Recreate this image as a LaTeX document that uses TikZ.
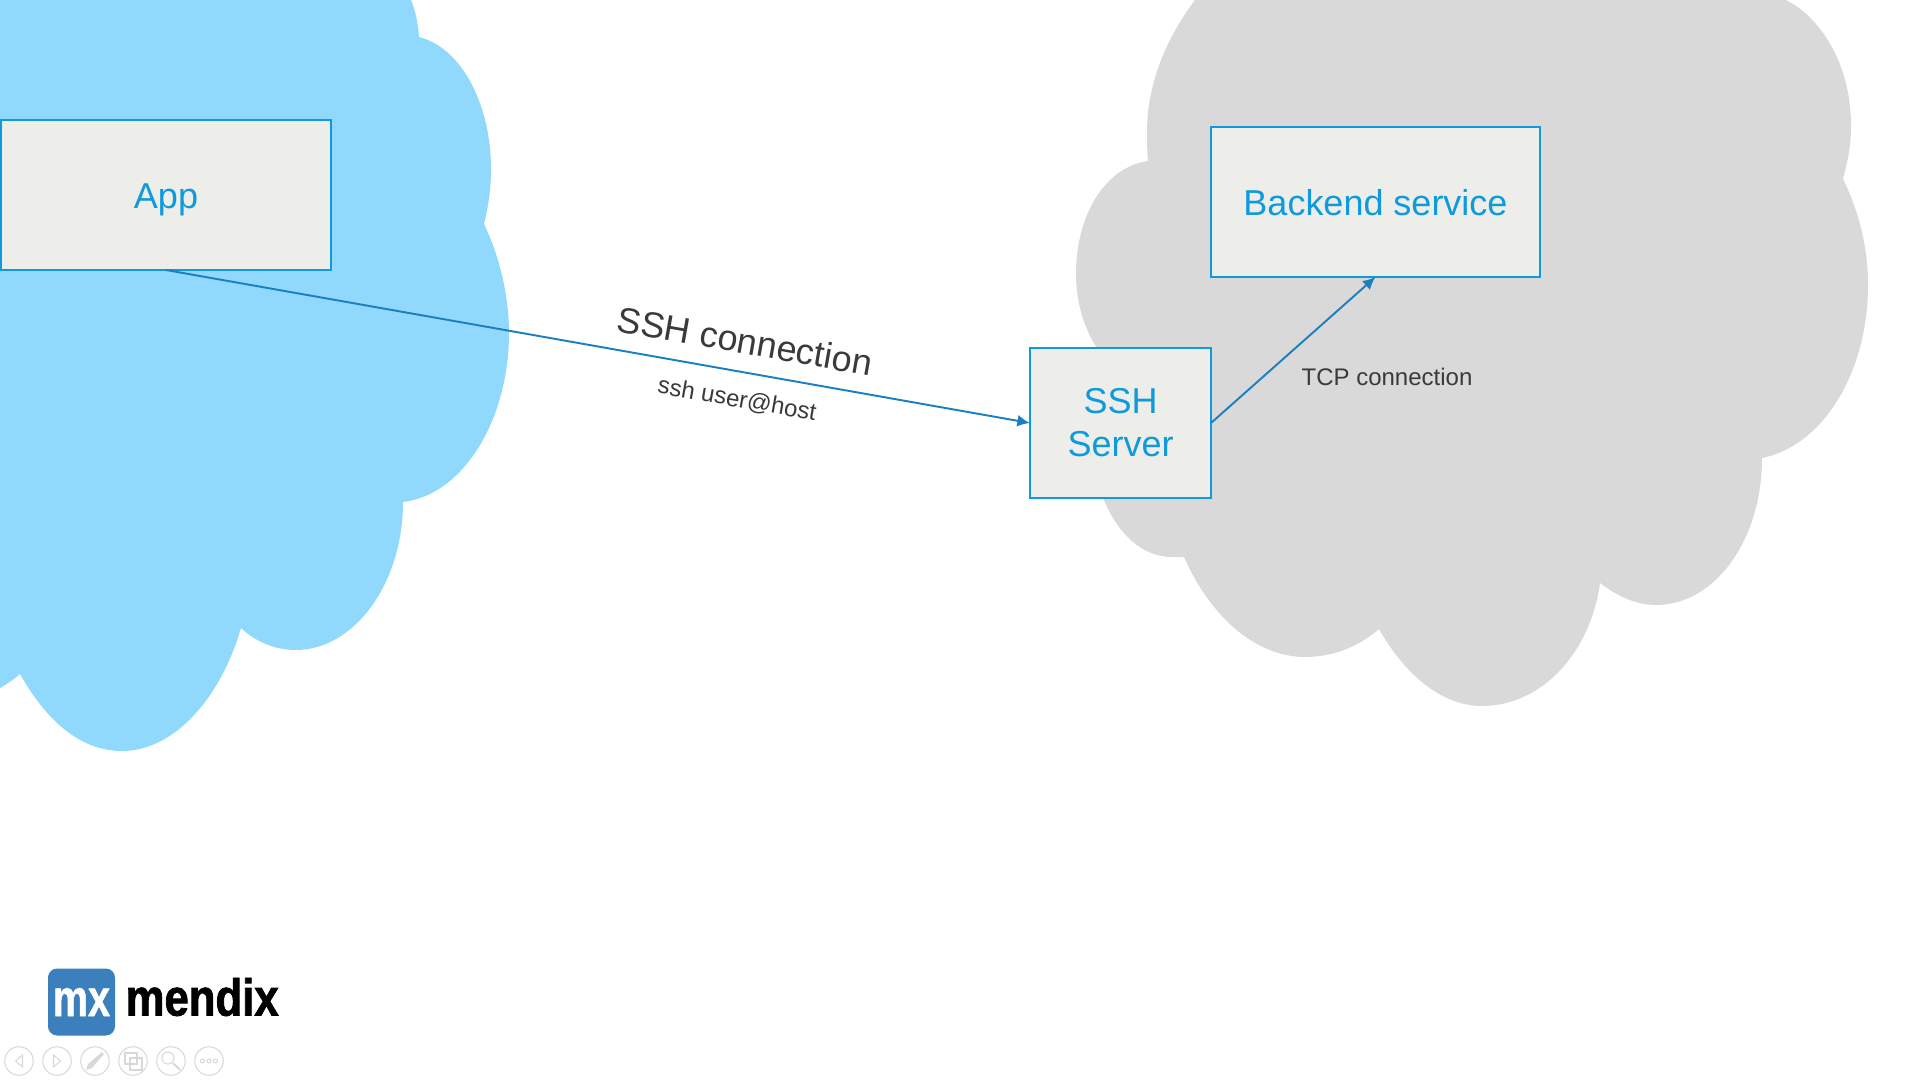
\documentclass[tikz,border=0pt]{standalone}
\usepackage{fontspec}
\setmainfont{Liberation Sans}
\newfontfamily\logofont[FakeStretch=0.84,FakeBold=1.5]{Liberation Sans Bold}
\newfontfamily\markfont[FakeStretch=0.76,FakeBold=1]{Liberation Sans Bold}
\usetikzlibrary{arrows.meta}
\usetikzlibrary{calc}
\usetikzlibrary{positioning}
\definecolor{cloudblue}{HTML}{90D9FD}
\definecolor{cloudgray}{HTML}{D9D9D9}
\definecolor{boxfill}{HTML}{EDEEEA}
\definecolor{boxblue}{HTML}{0E9ADC}
\definecolor{linkblue}{HTML}{1A80BF}
\definecolor{labelgray}{HTML}{3A3A3A}
\definecolor{markblue}{HTML}{3B80BC}
\definecolor{navgray}{HTML}{D8D8D8}

\begin{document}
\begin{tikzpicture}[y=-1cm,
    box/.style={rectangle, draw=boxblue, fill=boxfill, line width=0.6pt, outer sep=0pt, text=boxblue, align=center, font=\fontsize{10.24}{12.2}\selectfont},
    oneline/.style={text height=7.85pt, text depth=0pt},
    link/.style={draw=linkblue, line width=0.55pt, -{Latex[length=3.6pt,width=3.4pt]}},
    biglabel/.style={text=labelgray, rotate=-10, font=\fontsize{10.24}{12.3}\selectfont},
    smalllabel/.style={text=labelgray, font=\fontsize{6.83}{8.2}\selectfont},
    navbtn/.style={circle, draw=navgray, line width=0.3pt, minimum size=0.285cm, inner sep=0pt},
    navicon/.style={draw=navgray, line width=0.3pt}]
    \useasboundingbox (0, 0) rectangle (19.2, 10.8);

    % clouds
    \fill[cloudblue] (4.11, 0) .. controls (4.16, 0.12) and (4.18, 0.24) .. (4.19, 0.37)
        .. controls (4.62, 0.48) and (4.91, 1.05) .. (4.91, 1.69)
        .. controls (4.91, 1.90) and (4.88, 2.08) .. (4.84, 2.24)
        .. controls (4.99, 2.55) and (5.09, 2.95) .. (5.09, 3.33)
        .. controls (5.09, 4.20) and (4.63, 4.95) .. (4.03, 5.02)
        .. controls (4.03, 5.85) and (3.53, 6.50) .. (2.96, 6.50)
        .. controls (2.75, 6.50) and (2.56, 6.42) .. (2.41, 6.28)
        .. controls (2.20, 7.00) and (1.73, 7.51) .. (1.22, 7.51)
        .. controls (0.85, 7.51) and (0.50, 7.27) .. (0.20, 6.74)
        .. controls (0.13, 6.80) and (0.07, 6.84) .. (0, 6.88) -- (0, 0) -- cycle;
    \fill[cloudgray] (11.95, 0) .. controls (11.65, 0.40) and (11.47, 0.85) .. (11.47, 1.32)
        .. controls (11.47, 1.42) and (11.47, 1.50) .. (11.48, 1.61)
        .. controls (11.05, 1.67) and (10.76, 2.15) .. (10.76, 2.74)
        .. controls (10.76, 3.00) and (10.83, 3.27) .. (10.97, 3.48)
        -- (11.00, 4.20) -- (11.03, 4.98)
        .. controls (11.18, 5.35) and (11.43, 5.57) .. (11.72, 5.57)
        .. controls (11.76, 5.57) and (11.80, 5.57) .. (11.84, 5.57)
        .. controls (12.12, 6.20) and (12.58, 6.57) .. (13.05, 6.57)
        .. controls (13.33, 6.57) and (13.58, 6.47) .. (13.79, 6.29)
        .. controls (14.05, 6.75) and (14.42, 7.06) .. (14.82, 7.06)
        .. controls (15.40, 7.06) and (15.90, 6.55) .. (16.00, 5.83)
        .. controls (16.17, 5.96) and (16.36, 6.05) .. (16.56, 6.05)
        .. controls (17.15, 6.05) and (17.62, 5.40) .. (17.62, 4.58)
        .. controls (18.25, 4.45) and (18.68, 3.70) .. (18.68, 2.85)
        .. controls (18.68, 2.45) and (18.58, 2.10) .. (18.43, 1.79)
        .. controls (18.48, 1.60) and (18.51, 1.45) .. (18.51, 1.25)
        .. controls (18.51, 0.70) and (18.25, 0.20) .. (17.86, 0) -- cycle;

    % boxes
    \node[box, oneline, minimum width=3.3cm, minimum height=1.5cm] (App) at (1.66, 1.95) {App};
    \node[box, oneline, minimum width=3.29cm, minimum height=1.5cm] (Backend) at (13.755, 2.02) {Backend service};
    \node[box, minimum width=1.81cm, minimum height=1.5cm] (Server) at (11.205, 4.23) {SSH\\Server};

    % connections
    \draw[link] (App.south) -- (Server.west);
    \draw[link] (Server.east) -- (Backend.south);
    \node[biglabel] (SshLabel) at (7.45, 3.41) {SSH connection};
    \node[smalllabel, rotate=-10] (UserLabel) at (7.37, 4.00) {ssh user@host};
    \node[smalllabel] (TcpLabel) at (13.87, 3.77) {TCP connection};

    % logo
    \node[rectangle, rounded corners=2.6pt, fill=markblue, minimum size=0.67cm, inner sep=0pt] (Mark) at (0.815, 10.02) {};
    \node[text=white, inner sep=0pt, font=\markfont\fontsize{14.8}{14.8}\selectfont] (MarkText) at (Mark) {mx};
    \node[text=black, inner sep=0pt, anchor=west, font=\logofont\fontsize{14.8}{14.8}\selectfont] (Mendix) at (1.25, 9.97) {mendix};

    % player buttons
    \foreach \x [count=\i from 1] in {0.19, 0.57, 0.95, 1.33, 1.71, 2.09}
    {
        \node[navbtn] (Nav\i) at (\x, 10.61) {};
    }
    \draw[navicon] ($(Nav1) + (0.035, -0.06)$) -- ($(Nav1) + (-0.035, 0)$) -- ($(Nav1) + (0.035, 0.06)$) -- cycle;
    \draw[navicon] ($(Nav2) + (-0.035, -0.06)$) -- ($(Nav2) + (0.035, 0)$) -- ($(Nav2) + (-0.035, 0.06)$) -- cycle;
    \fill[navgray] ($(Nav3) + (-0.09, 0.09)$) -- ($(Nav3) + (-0.07, 0.03)$) -- ($(Nav3) + (0.07, -0.09)$) -- ($(Nav3) + (0.09, -0.07)$) -- ($(Nav3) + (-0.03, 0.07)$) -- cycle;
    \draw[navicon] ($(Nav4) + (-0.08, -0.08)$) rectangle ($(Nav4) + (0.04, 0.03)$);
    \draw[navicon] ($(Nav4) + (-0.03, -0.03)$) rectangle ($(Nav4) + (0.09, 0.09)$);
    \draw[navicon] ($(Nav5) + (-0.03, -0.03)$) circle (0.06);
    \draw[navicon, line width=0.6pt] ($(Nav5) + (0.02, 0.02)$) -- ($(Nav5) + (0.09, 0.09)$);
    \foreach \d in {-0.065, 0, 0.065}
    {
        \draw[navicon] ($(Nav6) + (\d, 0)$) circle (0.02);
    }
\end{tikzpicture}
\end{document}
